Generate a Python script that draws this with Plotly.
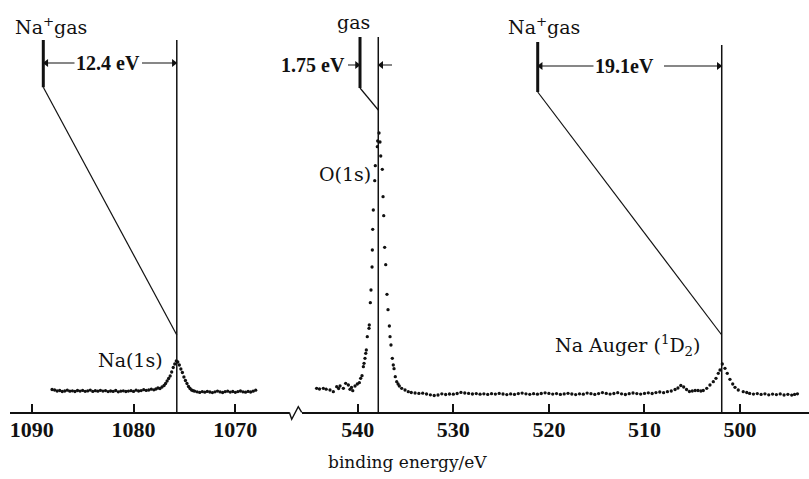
import plotly.graph_objects as go

# ---------------- data ----------------
# Left panel: Na(1s) region, binding energy (eV) and intensity (arb. units)
na1s_energy = [
    1088.0, 1087.75, 1087.5, 1087.25, 1087.0, 1086.75, 1086.5, 1086.25, 1086.0, 1085.75,
    1085.5, 1085.25, 1085.0, 1084.75, 1084.5, 1084.25, 1084.0, 1083.75, 1083.5, 1083.25,
    1083.0, 1082.75, 1082.5, 1082.25, 1082.0, 1081.75, 1081.5, 1081.25, 1081.0, 1080.75,
    1080.5, 1080.25, 1080.0, 1079.75, 1079.5, 1079.25, 1079.0, 1078.75, 1078.5, 1078.25,
    1078.0, 1077.8, 1077.6, 1077.4, 1077.2, 1077.0, 1076.85, 1076.7, 1076.55, 1076.4,
    1076.25, 1076.1, 1075.95, 1075.8, 1075.65, 1075.5, 1075.35, 1075.2, 1075.05, 1074.9,
    1074.75, 1074.6, 1074.45, 1074.3, 1074.15, 1074.0, 1073.75, 1073.5, 1073.25, 1073.0,
    1072.75, 1072.5, 1072.25, 1072.0, 1071.75, 1071.5, 1071.25, 1071.0, 1070.75, 1070.5,
    1070.25, 1070.0, 1069.75, 1069.5, 1069.25, 1069.0, 1068.75, 1068.5, 1068.25, 1068.0,
]
na1s_counts = [
    22.5, 22.0, 21.0, 21.5, 20.5, 21.0, 21.8, 20.8, 21.2, 20.5,
    21.5, 20.9, 21.6, 20.7, 21.1, 21.9, 20.6, 21.3, 20.8, 21.7,
    20.9, 21.4, 20.4, 21.0, 20.6, 21.5, 20.2, 20.8, 21.2, 20.5,
    20.9, 21.3, 20.6, 21.8, 21.0, 21.4, 22.3, 21.6, 22.0, 22.8,
    22.2, 23.0, 24.0, 23.5, 25.0, 26.5, 28.5, 31.0, 33.5, 36.0,
    40.0, 44.5, 48.0, 51.0, 50.0, 47.0, 43.0, 39.5, 35.0, 31.5,
    28.5, 25.5, 23.5, 22.0, 21.3, 20.8, 20.2, 19.6, 20.4, 19.8,
    20.6, 20.0, 19.4, 20.2, 20.9, 20.1, 19.5, 20.3, 20.8, 19.9,
    20.5, 19.7, 20.4, 21.0, 20.2, 19.8, 20.6, 20.0, 20.8, 21.8,
]

# Right panel: O(1s) and Na Auger region
o_auger_energy = [
    544.3, 544.0, 543.6, 543.3, 542.9, 542.55, 542.2, 542.0, 541.85, 541.5,
    541.26, 540.98, 540.81, 540.65, 540.52, 540.28, 540.04, 539.83, 539.69, 539.55,
    539.41, 539.34, 539.24, 539.16, 539.10, 539.00, 538.82, 538.79, 538.68, 538.61,
    538.50, 538.47, 538.43, 538.37, 538.22, 538.16, 537.95, 537.91, 537.77, 537.67,
    537.59, 537.43, 537.35, 537.28, 537.18, 537.07, 536.94, 536.83, 536.69, 536.62,
    536.52, 536.38, 536.28, 536.20, 536.07, 535.92, 535.78, 535.65, 535.40, 535.05,
    534.71, 534.4, 534.0, 533.6, 533.2, 532.8, 532.4, 532.0, 531.6, 531.2,
    530.8, 530.4, 530.0, 529.6, 529.2, 528.8, 528.4, 528.0, 527.6, 527.2,
    526.8, 526.4, 526.0, 525.6, 525.2, 524.8, 524.4, 524.0, 523.6, 523.2,
    522.8, 522.4, 522.0, 521.6, 521.2, 520.8, 520.4, 520.0, 519.6, 519.2,
    518.8, 518.4, 518.0, 517.6, 517.2, 516.8, 516.4, 516.0, 515.6, 515.2,
    514.8, 514.4, 514.0, 513.6, 513.2, 512.8, 512.4, 512.0, 511.6, 511.2,
    510.8, 510.4, 510.0, 509.6, 509.2, 508.8, 508.4, 508.0, 507.6, 507.2,
    506.8, 506.5, 506.2, 505.9, 505.6, 505.3, 505.0, 504.7, 504.4, 504.1,
    503.85, 503.49, 503.15, 502.80, 502.52, 502.28, 502.10, 501.86, 501.58, 501.34,
    501.06, 500.77, 500.53, 500.19, 499.67, 499.3, 499.0, 498.6, 498.2, 497.8,
    497.4, 497.0, 496.6, 496.2, 495.8, 495.4, 495.0, 494.6, 494.3, 494.0,
]
o_auger_counts = [
    23.7, 23.0, 23.7, 22.8, 22.0, 20.3, 25.3, 23.5, 26.0, 23.7,
    28.7, 27.0, 22.7, 24.5, 21.3, 26.0, 28.0, 29.3, 33.7, 36.3,
    45.3, 48.7, 53.7, 58.7, 62.0, 75.3, 83.7, 87.0, 109.3, 122.0,
    145.0, 162.0, 182.7, 202.0, 231.3, 246.3, 265.3, 271.0, 279.0, 270.0,
    256.0, 242.7, 215.3, 196.3, 164.7, 147.3, 117.7, 102.3, 86.0, 75.3,
    67.0, 53.7, 47.0, 43.3, 35.3, 30.3, 28.0, 26.0, 23.7, 22.0,
    20.3, 19.5, 19.0, 18.6, 18.8, 18.0, 17.2, 16.5, 17.0, 18.2,
    17.5, 18.0, 17.8, 18.5, 19.6, 19.0, 18.6, 18.0, 18.4, 17.8,
    18.2, 17.6, 18.3, 17.9, 18.6, 18.0, 17.4, 18.1, 17.6, 18.4,
    18.9, 18.2, 17.7, 18.3, 17.8, 18.5, 19.2, 18.6, 17.9, 18.4,
    17.6, 18.1, 18.7, 18.0, 17.4, 18.2, 17.8, 18.9, 18.3, 17.6,
    18.4, 19.4, 18.6, 17.9, 18.5, 19.3, 18.2, 17.5, 18.3, 19.0,
    18.4, 17.9, 18.6, 19.2, 18.5, 19.4, 20.0, 19.3, 20.3, 21.0,
    22.5, 24.0, 26.5, 25.0, 22.5, 20.5, 21.0, 21.5, 21.5, 21.0,
    21.5, 23.7, 27.0, 30.3, 33.7, 38.7, 42.0, 48.0, 43.7, 38.7,
    32.7, 28.0, 24.7, 22.0, 20.3, 19.5, 18.6, 17.9, 18.4, 17.6,
    18.2, 17.2, 17.9, 17.4, 18.1, 17.0, 17.7, 16.9, 17.6, 18.2,
]

# Peak positions (solid) and corresponding gas-phase positions (eV)
na1s_peak, na1s_gas = 1075.75, 1088.86
o1s_peak, o1s_gas = 537.85, 539.76
auger_peak, auger_gas = 501.92, 521.17
shift_labels = ["12.4 eV", "1.75 eV", "19.1eV"]

tick_left = [1090, 1080, 1070]
tick_right = [540, 530, 520, 510, 500]

# ---------------- figure ----------------
INK = "#111111"
W, H = 809, 479
BOT = 67
PH = H - BOT  # plot height in px

LEFT_DOM = (10.0, 289.3)
RIGHT_DOM = (301.7, 809.0)
LEFT_RANGE = (1092.13, 1064.70)
RIGHT_RANGE = (545.86, 492.79)
SCALE_L = (LEFT_DOM[1] - LEFT_DOM[0]) / (LEFT_RANGE[0] - LEFT_RANGE[1])
SCALE_R = (RIGHT_DOM[1] - RIGHT_DOM[0]) / (RIGHT_RANGE[0] - RIGHT_RANGE[1])


def px(x):
    return x / W


def py(y):
    return (PH - y) / PH


fig = go.Figure()
fig.add_trace(go.Scatter(x=na1s_energy, y=na1s_counts, mode="markers",
                         marker=dict(size=3.3, color=INK), xaxis="x", yaxis="y",
                         showlegend=False, hoverinfo="skip"))
fig.add_trace(go.Scatter(x=o_auger_energy, y=o_auger_counts, mode="markers",
                         marker=dict(size=3.3, color=INK), xaxis="x2", yaxis="y",
                         showlegend=False, hoverinfo="skip"))

tickfont = dict(family="Liberation Serif", size=22, color=INK)
axis_common = dict(showline=True, linecolor=INK, linewidth=1.6, ticks="inside",
                   ticklen=8, tickwidth=1.6, tickcolor=INK, showgrid=False,
                   zeroline=False, tickfont=tickfont, anchor="y", fixedrange=True,
                   ticklabelstandoff=-3)

fig.update_layout(
    width=W, height=H,
    margin=dict(l=0, r=0, t=0, b=BOT),
    paper_bgcolor="white", plot_bgcolor="white",
    showlegend=False,
    xaxis=dict(domain=[px(LEFT_DOM[0]), px(LEFT_DOM[1])], range=list(LEFT_RANGE),
               tickvals=tick_left, ticktext=[f"<b>{t}</b>" for t in tick_left], **axis_common),
    xaxis2=dict(domain=[px(RIGHT_DOM[0]), 1.0], range=list(RIGHT_RANGE),
                tickvals=tick_right, ticktext=[f"<b>{t}</b>" for t in tick_right], **axis_common),
    yaxis=dict(range=[0, PH], visible=False, fixedrange=True),
)

shapes = []
# axis break zig-zag
shapes.append(dict(type="path", xref="paper", yref="paper",
                   path=f"M {px(289.3)},{py(412.3)} L {px(291.7)},{py(419.3)} "
                        f"L {px(298.3)},{py(406.7)} L {px(301.7)},{py(412.3)}",
                   line=dict(color=INK, width=1.4)))


def peak_set(xref, peak, gas, top_peak, top_gas, bot_gas, meet):
    s = []
    s.append(dict(type="line", xref=xref, yref="y", x0=peak, x1=peak, y0=0, y1=top_peak,
                  line=dict(color=INK, width=1.5)))
    s.append(dict(type="line", xref=xref, yref="y", x0=gas, x1=gas, y0=bot_gas, y1=top_gas,
                  line=dict(color=INK, width=3)))
    s.append(dict(type="line", xref=xref, yref="y", x0=gas, x1=peak, y0=bot_gas, y1=meet,
                  line=dict(color=INK, width=1.2)))
    return s


shapes += peak_set("x", na1s_peak, na1s_gas, 372, 372, 324.7, 77)
shapes += peak_set("x2", o1s_peak, o1s_gas, 375, 375, 324, 302)
shapes += peak_set("x2", auger_peak, auger_gas, 367, 370, 320, 77)

# arrow shafts (shapes) + arrow heads (triangle markers)
head_x = {"x": [], "x2": []}
head_y = {"x": [], "x2": []}
head_sym = {"x": [], "x2": []}


def arrow(xref, tip, tail, y, scale):
    shapes.append(dict(type="line", xref=xref, yref="y", x0=tail, x1=tip, y0=y, y1=y,
                       line=dict(color=INK, width=1.1)))
    points_right = tip < tail  # energy decreases to the right
    off = 3.0 / scale
    head_x[xref].append(tip + off if points_right else tip - off)
    head_y[xref].append(y)
    head_sym[xref].append("triangle-right" if points_right else "triangle-left")


arrow("x", na1s_gas, 1085.64, 349, SCALE_L)
arrow("x", na1s_peak, 1079.17, 349, SCALE_L)
arrow("x2", o1s_gas, 541.02, 347, SCALE_R)
arrow("x2", o1s_peak, 536.41, 347, SCALE_R)
arrow("x2", auger_gas, 515.07, 346, SCALE_R)
arrow("x2", auger_peak, 507.96, 346, SCALE_R)
fig.update_layout(shapes=shapes)

for xr in ("x", "x2"):
    fig.add_trace(go.Scatter(x=head_x[xr], y=head_y[xr], mode="markers", xaxis=xr, yaxis="y",
                             marker=dict(symbol=head_sym[xr], size=7, color=INK,
                                         line=dict(width=0)),
                             showlegend=False, hoverinfo="skip"))

labfont = dict(family="DejaVu Serif", size=19, color=INK)
dimfont = dict(family="Liberation Serif", size=20, color=INK)
ann = []

ann.append(dict(xref="x", yref="y", x=1082.55, y=349, text=f"<b>{shift_labels[0]}</b>",
                showarrow=False, font=dimfont, xanchor="center", yanchor="middle",
                bgcolor="white"))
ann.append(dict(xref="x2", yref="y", x=541.14, y=347, text=f"<b>{shift_labels[1]}</b>",
                showarrow=False, font=dimfont, xanchor="right", yanchor="middle"))
ann.append(dict(xref="x2", yref="y", x=512.04, y=346, text=f"<b>{shift_labels[2]}</b>",
                showarrow=False, font=dimfont, xanchor="center", yanchor="middle",
                bgcolor="white"))

# labels
ann.append(dict(xref="x", yref="y", x=1088.1, y=386, text="Na<sup>+</sup>gas", showarrow=False,
                font=labfont, xanchor="center", yanchor="middle"))
ann.append(dict(xref="x2", yref="y", x=540.49, y=390, text="gas", showarrow=False,
                font=labfont, xanchor="center", yanchor="middle"))
ann.append(dict(xref="x2", yref="y", x=520.5, y=386, text="Na<sup>+</sup>gas", showarrow=False,
                font=labfont, xanchor="center", yanchor="middle"))
ann.append(dict(xref="x", yref="y", x=1076.88, y=52, text="Na(1s)", showarrow=False,
                font=labfont, xanchor="right", yanchor="middle"))
ann.append(dict(xref="x2", yref="y", x=538.40, y=238, text="O(1s)", showarrow=False,
                font=labfont, xanchor="right", yanchor="middle"))
ann.append(dict(xref="x2", yref="y", x=503.88, y=67,
                text="Na Auger (<sup>1</sup>D<sub>2</sub>)", showarrow=False,
                font=labfont, xanchor="right", yanchor="middle"))
# axis title
ann.append(dict(xref="paper", yref="paper", x=px(407), y=py(462), text="binding energy/eV",
                showarrow=False, font=dict(family="DejaVu Serif", size=17, color=INK),
                xanchor="center", yanchor="middle"))
fig.update_layout(annotations=ann)

fig.write_html("out.html")
